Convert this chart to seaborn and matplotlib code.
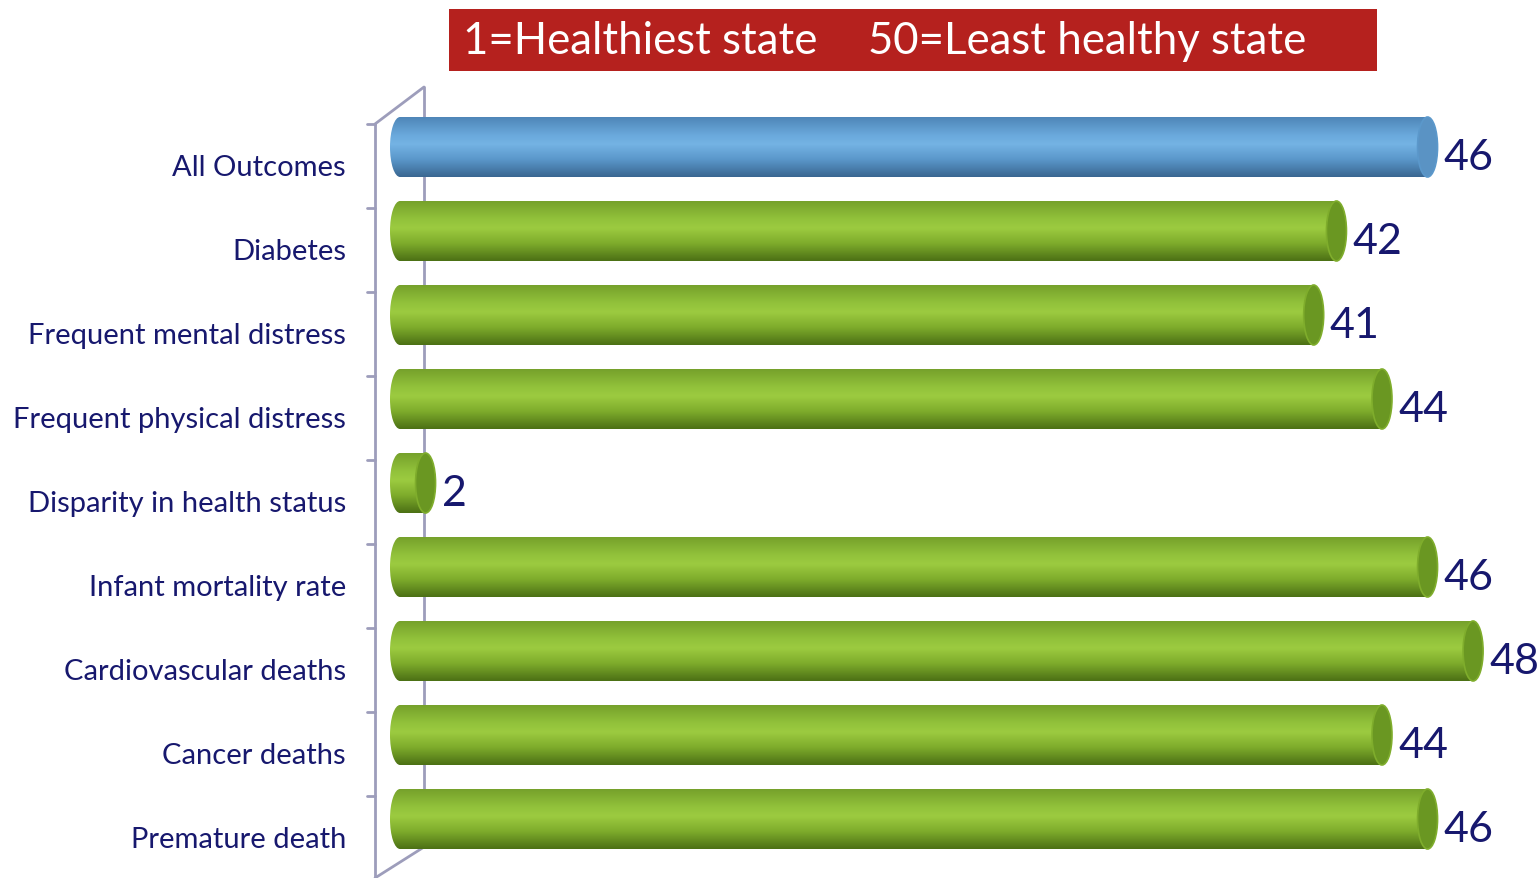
import numpy as np
import matplotlib
matplotlib.use("Agg")
import matplotlib.pyplot as plt
import matplotlib.transforms as mtransforms
from matplotlib.patches import Ellipse, Rectangle
from matplotlib.lines import Line2D
from matplotlib.colors import to_rgb
import seaborn as sns

categories = ["All Outcomes", "Diabetes", "Frequent mental distress",
              "Frequent physical distress", "Disparity in health status",
              "Infant mortality rate", "Cardiovascular deaths", "Cancer deaths",
              "Premature death"]
values = [46, 42, 41, 44, 2, 46, 48, 44, 46]
title_left = "1=Healthiest state"
title_right = "50=Least healthy state"

BLUE = ["#4f86b8", "#6aa9dc", "#74b3e4", "#5b98cb", "#3a6791"]
GREEN = ["#76a12b", "#92c23b", "#9ccb40", "#7fad2c", "#4c7015"]
CAP_BLUE = "#5a93c4"
CAP_GREEN = "#6a9722"
NAVY = "#17186e"

sns.set_theme(style="white")
plt.rcParams["font.family"] = ["Lato", "DejaVu Sans"]

W, H = 1537, 879
fig = plt.figure(figsize=(W / 100, H / 100), dpi=100)
ax = fig.add_axes([375 / W, 0, (1530 - 375) / W, (879 - 88) / H])
ax.patch.set_visible(False)

df_colors = ["#6aa9dc"] + ["#92c23b"] * (len(categories) - 1)
sns.barplot(x=values, y=categories, hue=categories, palette=df_colors,
            legend=False, orient="h", width=0.714, ax=ax)

pxu = 1002 / 44.0  # pixels per unit
xmin = -15 / pxu
xmax = (1530 - 390) / pxu
ax.set_xlim(xmin, xmax)
ymin, ymax = 8 + 59 / 84.0, -60 / 84.0
ax.set_ylim(ymin, ymax)

cap_w = 20 / pxu


def gradient(stops, n=120):
    cols = np.array([to_rgb(c) for c in stops])
    pos = np.array([0.0, 0.3, 0.45, 0.7, 1.0])
    t = np.linspace(0, 1, n)
    arr = np.stack([np.interp(t, pos, cols[:, k]) for k in range(3)], axis=1)
    return arr[:, None, :]


patches = list(ax.patches)
for i, p in enumerate(patches):
    x0, y0 = p.get_x(), p.get_y()
    w, h = p.get_width(), p.get_height()
    p.set_visible(False)
    stops = BLUE if i == 0 else GREEN
    capc = CAP_BLUE if i == 0 else CAP_GREEN
    img = gradient(stops)
    xr = x0 + w
    body = Rectangle((x0 + cap_w / 2, y0), max(xr - cap_w - x0, 0.01), h,
                     transform=ax.transData, facecolor="none", edgecolor="none")
    ax.add_patch(body)
    im = ax.imshow(img, extent=(x0, xr, y0 + h, y0), origin="upper",
                   aspect="auto", interpolation="bilinear", zorder=2)
    im.set_clip_path(body)
    lel = Ellipse((x0 + cap_w / 2, y0 + h / 2), cap_w, h, facecolor="none",
                  edgecolor="none", transform=ax.transData)
    ax.add_patch(lel)
    im2 = ax.imshow(img, extent=(x0, xr, y0 + h, y0), origin="upper",
                    aspect="auto", interpolation="bilinear", zorder=2)
    im2.set_clip_path(lel)
    rcap = Ellipse((xr - cap_w / 2, y0 + h / 2), cap_w, h, facecolor=capc,
                   edgecolor=stops[3], linewidth=1.2, zorder=3)
    ax.add_patch(rcap)
    ax.text(xr + 6 / pxu, y0 + h / 2 + 0.12, str(values[i]), color=NAVY,
            fontsize=31, ha="left", va="center", zorder=4)

ax.set_xlim(xmin, xmax)
ax.set_ylim(ymin, ymax)
ax.set_xticks([])
ax.set_yticks([])
ax.set_xlabel("")
ax.set_ylabel("")
for s in ax.spines.values():
    s.set_visible(False)

trans = mtransforms.blended_transform_factory(fig.transFigure, ax.transData)
for i, c in enumerate(categories):
    ax.text(346 / W, i + 0.24, c, transform=trans, ha="right", va="center",
            fontsize=21, color=NAVY)


def fl(x1, y1, x2, y2, z=5):
    fig.add_artist(Line2D([x1 / W, x2 / W], [1 - y1 / H, 1 - y2 / H],
                          transform=fig.transFigure, color="#9d9dbb",
                          linewidth=2, zorder=z))


fl(375, 125, 375, 879)
fl(375, 125, 424, 88)
fl(424, 88, 424, 848, z=-1)
fl(375, 879, 424, 848, z=-1)
for k in range(10):
    yy = 125 + 84 * k
    fl(367, yy, 375, yy)

fig.add_artist(Rectangle((449 / W, 1 - 72 / H), (1377 - 449) / W, 62 / H,
                         transform=fig.transFigure, facecolor="#b5211e",
                         edgecolor="none", zorder=1))
fig.text(463 / W, 1 - 42 / H, title_left, color="white", fontsize=31.5,
         ha="left", va="center", zorder=2)
fig.text(868 / W, 1 - 42 / H, title_right, color="white", fontsize=31.5,
         ha="left", va="center", zorder=2)

fig.savefig("out.png", dpi=100)
